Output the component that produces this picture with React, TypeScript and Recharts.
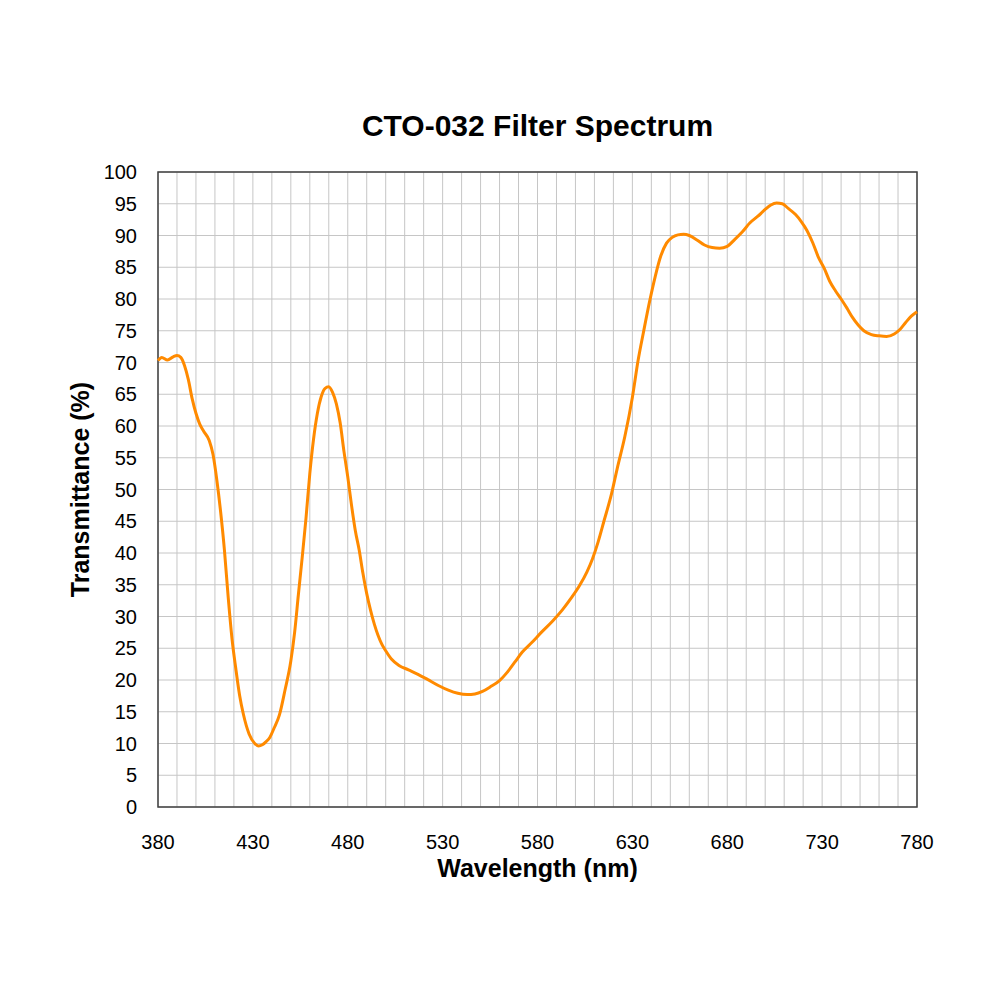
import React from "react";
import {
  LineChart,
  Line,
  XAxis,
  YAxis,
  CartesianGrid,
  ReferenceArea,
} from "recharts";

// wavelength (nm) and transmittance (%)
const wavelengths = [
  380, 382, 385, 388, 390, 392, 394, 396, 398, 400, 402, 404, 407, 409, 411,
  413, 415, 417, 419, 421, 423, 425, 428, 431, 433, 435, 437, 439, 441, 444,
  447, 450, 452, 454, 456, 458, 460, 462, 464, 466, 468, 470, 472, 474, 476,
  478, 480, 482, 484, 486, 488, 490, 492, 494, 496, 498, 500, 503, 507, 512,
  517, 522, 528, 533, 538, 543, 547, 551, 555, 560, 564, 568, 572, 577, 582,
  588, 593, 598, 602, 606, 609, 612, 615, 619, 622, 626, 630, 633, 636, 639,
  642, 645, 648, 651, 654, 657, 660, 664, 668, 672, 676, 680, 684, 688, 692,
  696, 700, 703, 706, 709, 712, 716, 719, 722, 725, 728, 731, 734, 737, 740,
  743, 746, 749, 752, 756, 760, 764, 768, 771, 774, 777, 780,
];

const transmittance = [
  70.3, 70.8, 70.4, 70.9, 71.1, 70.8, 69.5, 67.3, 64.3, 62.0, 60.3, 59.2, 57.7,
  55.5, 51.5, 46.5, 40.5, 33.0, 26.5, 21.8, 17.6, 14.6, 11.5, 10.0, 9.6, 9.8,
  10.3, 11.0, 12.3, 14.5, 18.5, 23.0, 27.5, 33.5, 39.3, 45.5, 52.5, 58.0, 62.0,
  64.6, 65.9, 66.2, 65.3, 63.5, 60.5, 56.0, 52.0, 47.5, 43.5, 40.5, 36.8, 33.6,
  31.0, 28.8, 27.0, 25.6, 24.6, 23.3, 22.3, 21.6, 20.9, 20.1, 19.1, 18.4, 17.9,
  17.7, 17.8, 18.2, 18.9, 19.9, 21.2, 22.8, 24.4, 25.9, 27.5, 29.3, 31.0, 33.0,
  34.8, 37.0, 39.1, 41.8, 45.0, 49.3, 53.3, 58.3, 64.5, 70.3, 75.0, 79.5, 83.5,
  86.8, 88.8, 89.7, 90.1, 90.2, 90.0, 89.3, 88.5, 88.1, 88.0, 88.3, 89.4, 90.6,
  92.0, 93.0, 94.1, 94.8, 95.1, 95.0, 94.3, 93.3, 92.2, 90.8, 88.9, 86.6, 84.9,
  82.8, 81.3, 80.0, 78.6, 77.1, 75.9, 75.0, 74.4, 74.2, 74.1, 74.5, 75.2, 76.3,
  77.3, 78.0,
];

const xGridTicks = [
  380, 390, 400, 410, 420, 430, 440, 450, 460, 470, 480, 490, 500, 510, 520,
  530, 540, 550, 560, 570, 580, 590, 600, 610, 620, 630, 640, 650, 660, 670,
  680, 690, 700, 710, 720, 730, 740, 750, 760, 770, 780,
];
const xLabelTicks = [380, 430, 480, 530, 580, 630, 680, 730, 780];
const yTicks = [
  0, 5, 10, 15, 20, 25, 30, 35, 40, 45, 50, 55, 60, 65, 70, 75, 80, 85, 90, 95,
  100,
];

const data = wavelengths.map((wl, i) => ({ wl, t: transmittance[i] }));

const font = "'Liberation Sans', Arial, sans-serif";

export default function App() {
  return (
    <div
      style={{
        position: "absolute",
        left: 0,
        top: 0,
        width: 1000,
        height: 1000,
        background: "#fff",
        fontFamily: font,
      }}
    >
      <div
        style={{
          position: "absolute",
          left: 0,
          width: 1075,
          top: 111,
          textAlign: "center",
          fontSize: 30,
          lineHeight: "30px",
          fontWeight: "bold",
          color: "#000",
        }}
      >
        CTO-032 Filter Spectrum
      </div>

      <LineChart
        width={1000}
        height={1000}
        data={data}
        margin={{ top: 172, right: 83, bottom: 113, left: 0 }}
      >
        <CartesianGrid stroke="#c6c6c6" strokeWidth={1} />

        <XAxis
          dataKey="wl"
          type="number"
          domain={[380, 780]}
          ticks={xGridTicks}
          interval={0}
          height={80}
          tickLine={false}
          axisLine={false}
          tickSize={0}
          tickMargin={28}
          tick={{ fill: "#000", fontSize: 20, fontFamily: font }}
          tickFormatter={(v: number) =>
            xLabelTicks.includes(v) ? String(v) : ""
          }
          label={{
            value: "Wavelength (nm)",
            position: "insideBottom",
            offset: 10,
            style: {
              fill: "#000",
              fontSize: 25,
              fontWeight: "bold",
              fontFamily: font,
            },
          }}
        />

        <YAxis
          type="number"
          domain={[0, 100]}
          ticks={yTicks}
          interval={0}
          width={158}
          tickLine={false}
          axisLine={false}
          tickSize={0}
          tickMargin={21}
          tick={{ fill: "#000", fontSize: 20, fontFamily: font }}
          label={{
            value: "Transmittance (%)",
            angle: -90,
            position: "insideLeft",
            offset: 80,
            style: {
              fill: "#000",
              fontSize: 25,
              fontWeight: "bold",
              fontFamily: font,
              textAnchor: "middle",
            },
          }}
        />

        <ReferenceArea
          x1={380}
          x2={780}
          y1={0}
          y2={100}
          fill="none"
          fillOpacity={0}
          stroke="#404040"
          strokeWidth={1.5}
        />

        <Line
          type="monotone"
          dataKey="t"
          stroke="#ff8a00"
          strokeWidth={3}
          dot={false}
          activeDot={false}
          isAnimationActive={false}
        />
      </LineChart>
    </div>
  );
}
